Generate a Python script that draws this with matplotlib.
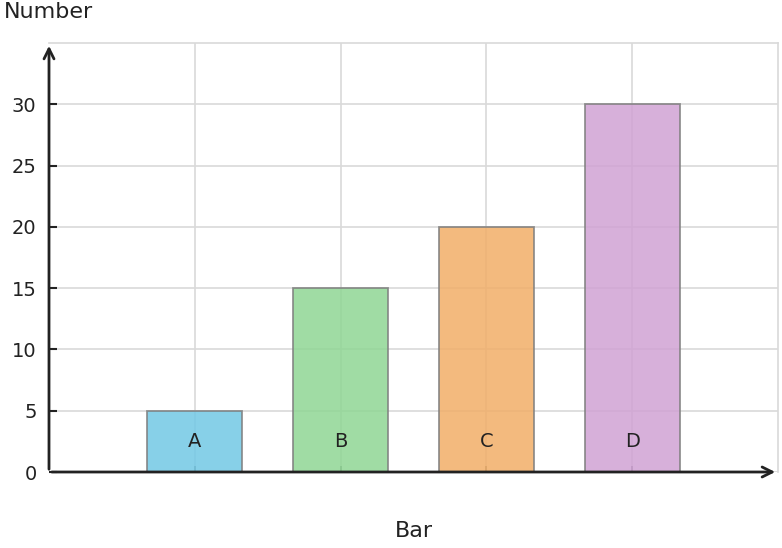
import matplotlib
matplotlib.use("Agg")
import matplotlib.pyplot as plt

categories = ["A", "B", "C", "D"]
values = [5, 15, 20, 30]
colors = ["#72c8e5", "#8fd694", "#f1ae68", "#d0a2d4"]
y_ticks = [0, 5, 10, 15, 20, 25, 30]

fig = plt.figure(figsize=(7.82, 5.48), dpi=100)
ax = fig.add_axes([49 / 782, 76 / 548, 729 / 782, 429 / 548])

x = list(range(len(categories)))
ax.set_axisbelow(True)
ax.grid(True, color="#d9d9d9", linewidth=1.2)
ax.bar(x, values, width=0.65, color=colors, alpha=0.85,
       edgecolor="#7f7f7f", linewidth=1.3, zorder=3)

# labels inside bars
for xi, name in zip(x, categories):
    ax.text(xi, 2.5, name, ha="center", va="center", fontsize=14,
            color="#222222", zorder=4)

ax.set_xlim(-1, 4)
ax.set_ylim(0, 35)
ax.set_xticks(x)
ax.set_xticklabels([])
ax.set_yticks(y_ticks)
ax.tick_params(axis="y", labelsize=14, length=6, width=1.5, color="#222222",
               labelcolor="#222222", direction="in", pad=9)
ax.tick_params(axis="x", length=4, width=1.2, color="#666666", direction="in")

for side in ["left", "bottom"]:
    ax.spines[side].set_visible(False)
for side in ["top", "right"]:
    ax.spines[side].set_color("#d9d9d9")
    ax.spines[side].set_linewidth(1.2)

# arrow axes
ax.annotate("", xy=(1.0, 0), xytext=(0, 0), xycoords="axes fraction",
            arrowprops=dict(arrowstyle="->", color="#222222", lw=2,
                            mutation_scale=18), zorder=5, annotation_clip=False)
ax.annotate("", xy=(0, 1.0), xytext=(0, 0), xycoords="axes fraction",
            arrowprops=dict(arrowstyle="->", color="#222222", lw=2,
                            mutation_scale=18), zorder=5, annotation_clip=False)

fig.text(414 / 782, 1 - 531 / 548, "Bar", fontsize=16, color="#222222",
         ha="center", va="center")
fig.text(4 / 782, 1 - 12 / 548, "Number", fontsize=16, color="#222222",
         ha="left", va="center")

fig.savefig("out.png", dpi=100)
